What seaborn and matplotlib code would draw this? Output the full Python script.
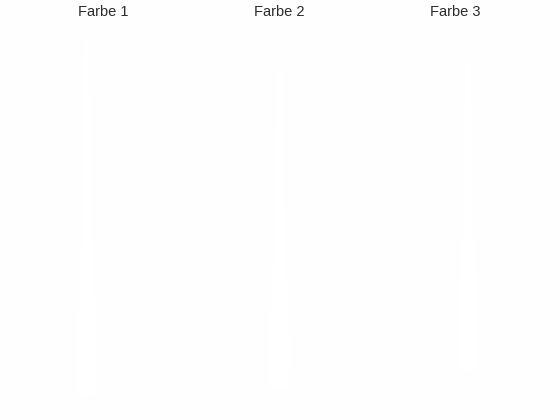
import numpy as np
import pandas as pd
import matplotlib
matplotlib.use("Agg")
import matplotlib.pyplot as plt
import seaborn as sns

# Spaltentitel
farben = ["Farbe 1", "Farbe 2", "Farbe 3"]

# Werte je Spalte (vertikale Lage, 0 = unten, 1 = oben), aus dem Bild geschaetzt
werte_farbe1 = [0.03, 0.06, 0.08, 0.1, 0.13, 0.17, 0.22, 0.3, 0.4, 0.52, 0.66, 0.82, 0.98]
werte_farbe2 = [0.05, 0.07, 0.09, 0.12, 0.15, 0.2, 0.26, 0.34, 0.45, 0.58, 0.74, 0.9]
werte_farbe3 = [0.1, 0.12, 0.14, 0.17, 0.21, 0.26, 0.33, 0.42, 0.53, 0.66, 0.8, 0.92]

df = pd.DataFrame({
    "Farbe": ["Farbe 1"] * len(werte_farbe1) + ["Farbe 2"] * len(werte_farbe2) + ["Farbe 3"] * len(werte_farbe3),
    "Wert": werte_farbe1 + werte_farbe2 + werte_farbe3,
})

sns.set_style("white")
plt.rcParams["font.family"] = ["Liberation Sans", "DejaVu Sans"]

bg = "#fefefe"
fig = plt.figure(figsize=(5.6, 4.2), dpi=100, facecolor=bg)

left = 15 / 560
breite = 176 / 560
xlims = [(-0.85, 1.25), (-1.0, 1.0), (-1.2, 0.9)]

for i, farbe in enumerate(farben):
    ax = fig.add_axes([left + i * breite, 5 / 420, breite, 390 / 420])
    ax.set_facecolor(bg)
    sub = df[df["Farbe"] == farbe]
    sns.violinplot(data=sub, y="Wert", ax=ax, color="white", linewidth=0,
                   inner=None, cut=0, width=0.25, bw_adjust=0.8)
    ax.set_xlim(*xlims[i])
    ax.set_ylim(-0.02, 1.02)
    ax.set_xticks([])
    ax.set_yticks([])
    ax.set_xlabel("")
    ax.set_ylabel("")
    for s in ax.spines.values():
        s.set_visible(False)
    fig.text(left + (i + 0.5) * breite, 1 - 12 / 420, farbe, ha="center", va="center",
             fontsize=10.5, color="#2b2b2b")

fig.savefig("out.png", dpi=100, facecolor=bg)
